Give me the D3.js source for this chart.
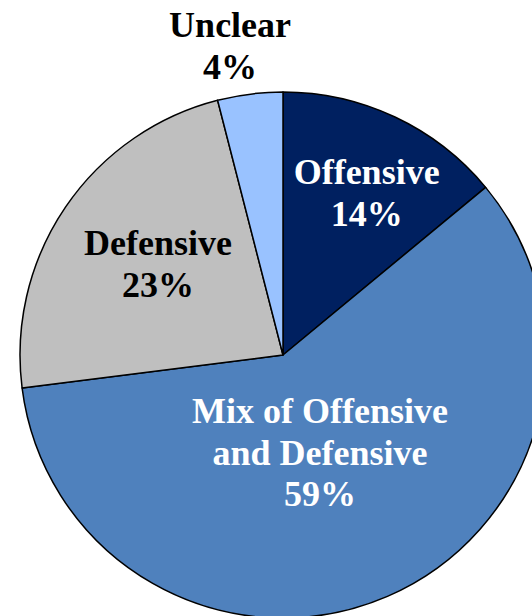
<!DOCTYPE html>
<html>
<head>
<meta charset="utf-8">
<script src="https://cdn.jsdelivr.net/npm/d3@7"></script>
<style>
  body { margin: 0; background: #fff; }
  svg { display: block; }
</style>
</head>
<body>
<div id="chart-area"></div>
<script>
// DATA
const categories = ['Offensive', 'Mix of Offensive and Defensive', 'Defensive', 'Unclear']
const shares = [14, 59, 23, 4]
const labelLines = [
    ['Offensive', '14%'],
    ['Mix of Offensive', 'and Defensive', '59%'],
    ['Defensive', '23%'],
    ['Unclear', '4%']
]

// STYLES
const colors = ['#002060', '#4f81bd', '#bfbfbf', '#99c2ff']
const textColors = ['#fff', '#fff', '#000', '#000']
// label radius (px from centre) per slice, angle is taken from the slice
const labelRadius = [183, 104, 155, 314]
const labelAngleShift = [2, 2.6, 2, -2.5]

const width = 532
const height = 616
const cx = 283
const cy = 355
const radius = 263

const svg = d3.select('#chart-area')
              .append('svg')
              .attr('width', width)
              .attr('height', height)

const g = svg.append('g')
             .attr('transform', 'translate(' + cx + ',' + cy + ')')

const data = categories.map((c, i) => ({ name: c, value: shares[i], i: i }))

const pie = d3.pie()
              .value(d => d.value)
              .sort(null)

const arc = d3.arc()
              .innerRadius(0)
              .outerRadius(radius)

const arcs = pie(data)

// SLICES
g.selectAll('path')
 .data(arcs)
 .enter()
 .append('path')
 .attr('d', arc)
 .attr('fill', d => colors[d.data.i])
 .attr('stroke', '#000')
 .attr('stroke-width', 1.5)
 .attr('stroke-linejoin', 'round')

// LABELS
const lineHeight = 41.5
const labels = g.selectAll('text.label')
                .data(arcs)
                .enter()
                .append('text')
                .attr('class', 'label')
                .attr('text-anchor', 'middle')
                .attr('font-family', '"Liberation Serif", "DejaVu Serif", serif')
                .attr('font-weight', 'bold')
                .attr('font-size', '36px')
                .attr('fill', d => textColors[d.data.i])
                .attr('transform', d => {
                    const i = d.data.i
                    const a = (d.startAngle + d.endAngle) / 2 + labelAngleShift[i] * Math.PI / 180
                    const r = labelRadius[i]
                    return 'translate(' + (r * Math.sin(a)) + ',' + (-r * Math.cos(a)) + ')'
                })

labels.each(function (d) {
    const lines = labelLines[d.data.i]
    const top = -((lines.length - 1) * lineHeight) / 2
    d3.select(this).selectAll('tspan')
      .data(lines)
      .enter()
      .append('tspan')
      .attr('x', 0)
      .attr('y', (l, k) => top + k * lineHeight)
      .attr('dy', '0.35em')
      .text(l => l)
})
</script>
</body>
</html>
